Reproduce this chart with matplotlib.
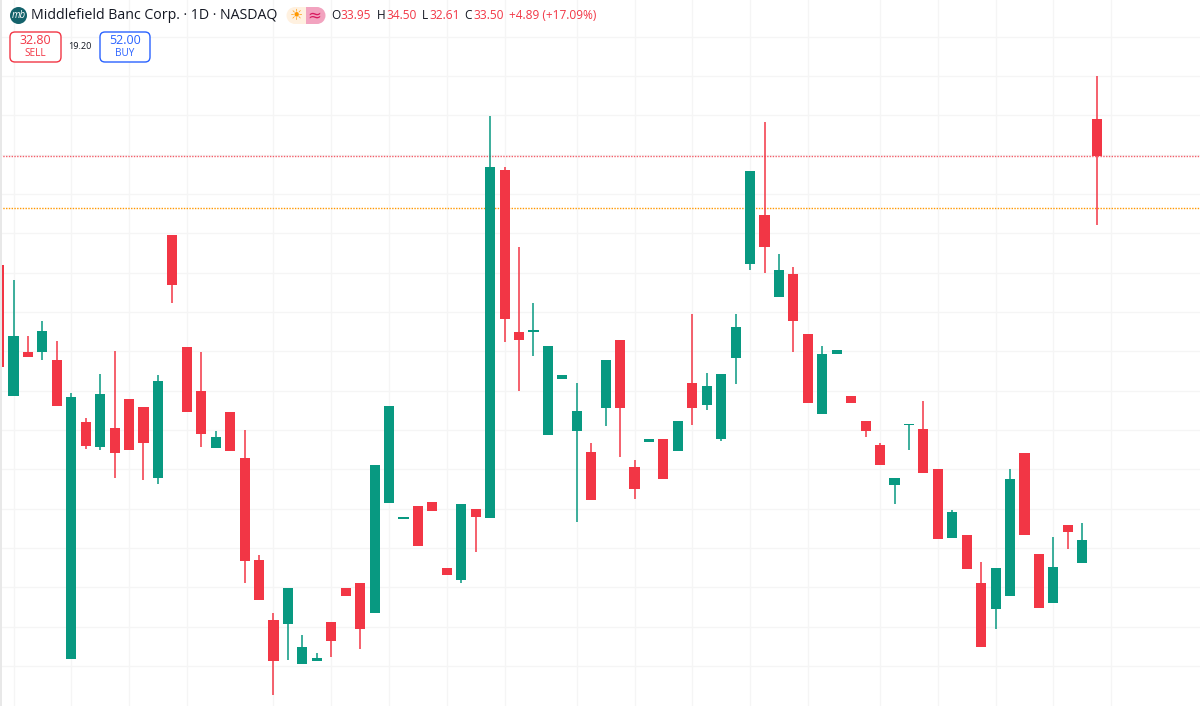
import matplotlib
matplotlib.use("Agg")
import matplotlib.pyplot as plt
from matplotlib.patches import FancyBboxPatch, Circle, Rectangle, Wedge

# daily prices, one entry per session
opens = [32.10,30.43,30.99,30.99,30.89,27.09,30.10,29.79,30.03,30.40,30.29,29.39,32.48,31.05,30.49,29.77,
	30.23,29.65,28.35,27.58,27.54,27.02,27.07,27.56,27.99,28.05,27.68,29.07,28.87,29.03,29.09,28.24,
	28.09,29.00,28.88,33.30,31.25,31.25,29.94,30.65,29.99,29.72,30.28,31.15,29.53,29.85,29.89,29.73,
	30.60,30.32,29.89,30.92,32.11,32.73,31.69,31.98,31.22,30.20,30.97,30.43,30.11,29.81,29.30,30.06,
	30.01,29.50,28.63,28.66,28.06,27.72,27.89,29.71,28.42,27.80,28.79,28.31,33.95]
closes = [30.80,31.19,30.93,31.26,30.31,30.42,29.80,30.46,29.71,29.74,29.83,30.62,31.84,30.23,29.95,29.91,
	29.73,28.34,27.84,27.06,27.99,27.24,27.10,27.32,27.89,27.47,29.55,30.31,28.90,28.53,28.97,28.16,
	29.06,28.89,33.34,31.41,31.14,31.27,31.07,30.70,30.24,29.11,30.89,30.28,29.25,29.89,29.38,30.11,
	30.28,30.56,30.71,31.31,33.29,32.33,32.04,31.39,30.34,30.97,31.02,30.34,29.99,29.55,29.39,30.08,
	29.46,28.61,28.96,28.23,27.24,28.24,29.38,28.66,27.74,28.26,28.70,28.60,33.48]
highs = [32.10,31.91,31.20,31.39,31.13,30.47,30.15,30.71,31.01,30.40,30.29,30.70,32.48,31.05,30.99,29.99,
	30.23,30.00,28.41,27.68,27.99,27.39,27.17,27.56,27.99,28.05,29.55,30.31,28.90,29.03,29.09,28.24,
	29.06,29.00,33.99,33.34,32.33,31.62,31.07,30.70,30.60,29.83,30.89,31.15,29.62,29.89,29.89,30.11,
	31.48,30.72,30.71,31.48,33.29,33.92,32.24,32.07,31.22,31.07,31.02,30.43,30.11,29.84,29.39,30.08,
	30.37,29.50,28.98,28.66,28.32,28.24,29.51,29.71,28.42,28.64,28.79,28.82,34.50]
lows = [30.80,30.43,30.93,30.89,30.31,27.09,29.76,29.74,29.39,29.74,29.36,29.31,31.62,30.23,29.78,29.77,
	29.73,28.05,27.84,26.63,27.08,27.02,27.07,27.11,27.89,27.22,27.68,29.07,28.87,28.53,28.97,28.16,
	28.05,28.45,28.88,31.12,30.50,30.94,29.94,30.65,28.83,29.11,30.05,29.66,29.12,29.85,29.38,29.73,
	30.07,30.25,29.86,30.58,32.04,31.99,31.69,30.99,30.34,30.20,30.97,30.34,29.91,29.55,29.06,29.75,
	29.46,28.61,28.63,28.23,27.24,27.47,27.89,28.66,27.74,27.80,28.49,28.31,32.61]

sell_price = 32.82
last_price = 33.48
grid_prices = [35.0,34.5,34.0,33.5,33.0,32.5,32.0,31.5,31.0,30.5,30.0,29.5,29.0,28.5,28.0,27.5,27.0]
grid_sessions = [1,5,9,13,19,23,27,31,35,40,44,48,52,56,61,65,69,73,77]

RED = "#f23645"
GREEN = "#089981"
GRID = "#f5f5f5"

fig = plt.figure(figsize=(12, 7.06), dpi=100)
ax = fig.add_axes([0, 0, 1, 1])

for p in grid_prices:
	ax.axhline(p, color=GRID, linewidth=1, zorder=0)
for s in grid_sessions:
	ax.axvline(s, color=GRID, linewidth=1, zorder=0)

sessions = list(range(len(opens)))
colors = [RED if closes[i] < opens[i] else GREEN for i in sessions]
tops = [max(opens[i], closes[i]) for i in sessions]
bottoms = [min(opens[i], closes[i]) for i in sessions]
heights = [tops[i] - bottoms[i] for i in sessions]

ax.vlines(sessions, lows, highs, colors=colors, linewidth=1.1, zorder=2)
ax.bar(sessions, heights, bottom=bottoms, width=0.7, color=colors, linewidth=0, zorder=3)

ax.axhline(last_price, color=RED, linewidth=1, linestyle=(0, (1, 1)), alpha=0.8, zorder=1)
ax.axhline(sell_price, color="#ff9800", linewidth=1, linestyle=(0, (1, 1)), zorder=1)

ax.set_xlim(0.065, 83.15)
ax.set_ylim(26.492, 35.466)
ax.axis("off")

# header is placed in pixels on a second axes
top = fig.add_axes([0, 0, 1, 1])
top.set_xlim(0, 1200)
top.set_ylim(706, 0)
top.axis("off")
top.patch.set_alpha(0)

FONT = "Open Sans"
DARK = "#131722"

top.add_patch(Rectangle((0, 0), 1.5, 706, color="#e8e8e8", linewidth=0))

top.add_patch(Circle((18.5, 15.5), 8.5, color="#14626b", linewidth=0))
top.text(18.5, 15.5, "mb", color="white", fontsize=7, style="italic", ha="center", va="center", family=FONT)
top.text(31, 15.5, "Middlefield Banc Corp. · 1D · NASDAQ", color=DARK, fontsize=10.2, ha="left", va="center", family=FONT)

top.add_patch(Rectangle((295, 7), 11, 17, color="#fff1e0", linewidth=0))
top.add_patch(Wedge((295, 15.5), 8.5, 90, 270, color="#fff1e0", linewidth=0))
top.add_patch(Rectangle((306, 7), 11, 17, color="#f2a3bf", linewidth=0))
top.add_patch(Wedge((317, 15.5), 8.5, -90, 90, color="#f2a3bf", linewidth=0))
top.text(296, 15, "☀", color="#ff9800", fontsize=10.5, ha="center", va="center", family="DejaVu Sans")
top.text(314, 15.5, "≈", color="#d81b60", fontsize=12, ha="center", va="center", family="DejaVu Sans")

ohlc = [(331.5, "O", 340.7, "33.95"), (376.7, "H", 386, "34.50"), (421.7, "L", 429, "32.61"), (464, "C", 473, "33.50")]
for lx, letter, vx, val in ohlc:
	top.text(lx, 15.5, letter, color=DARK, fontsize=8.6, ha="left", va="center", family=FONT)
	top.text(vx, 15.5, val, color=RED, fontsize=8.6, ha="left", va="center", family=FONT)
top.text(509, 15.5, "+4.89 (+17.09%)", color=RED, fontsize=8.6, ha="left", va="center", family=FONT)

top.add_patch(FancyBboxPatch((10, 32), 51, 30, boxstyle="round,pad=0,rounding_size=5", facecolor="white", edgecolor=RED, linewidth=1))
top.text(35.5, 41, "32.80", color=RED, fontsize=9, ha="center", va="center", family=FONT)
top.text(35.5, 54, "SELL", color=RED, fontsize=7.2, ha="center", va="center", family=FONT)
top.text(80, 46.5, "19.20", color=DARK, fontsize=6.6, ha="center", va="center", family=FONT)
top.add_patch(FancyBboxPatch((100, 32), 50, 30, boxstyle="round,pad=0,rounding_size=5", facecolor="white", edgecolor="#2962ff", linewidth=1))
top.text(125, 41, "52.00", color="#2962ff", fontsize=9, ha="center", va="center", family=FONT)
top.text(125, 54, "BUY", color="#2962ff", fontsize=7.2, ha="center", va="center", family=FONT)

fig.savefig("out.png", dpi=100)
